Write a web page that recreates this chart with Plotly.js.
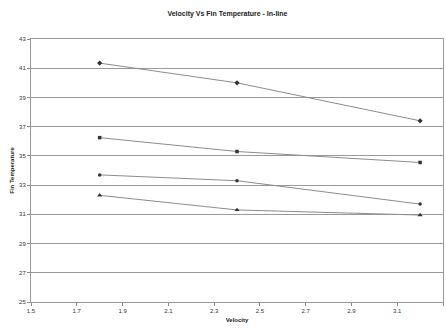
<!DOCTYPE html>
<html><head><meta charset="utf-8">
<script src="https://cdn.plot.ly/plotly-3.0.1.min.js"></script>
<style>html,body{margin:0;padding:0;background:#fff}#c{width:446px;height:331px}</style>
</head><body><div id="c"></div>
<script>
const velocity = [1.8, 2.4, 3.2];
const seriesA = [41.35, 40.0, 37.4];
const seriesB = [36.25, 35.3, 34.55];
const seriesC = [33.7, 33.3, 31.7];
const seriesD = [32.3, 31.3, 30.95];
const xTicks = [1.5, 1.7, 1.9, 2.1, 2.3, 2.5, 2.7, 2.9, 3.1, 3.3];
const yTicks = [25, 27, 29, 31, 33, 35, 37, 39, 41, 43];

function tr(y, sym, sz) {
  return {x: velocity, y: y, type: 'scatter', mode: 'lines+markers',
    line: {color: '#8c8c8c', width: 1},
    marker: {symbol: sym, size: sz, color: '#333'}};
}
const data = [tr(seriesA, 'diamond', 4), tr(seriesB, 'square', 3.5), tr(seriesC, 'circle', 3.5), tr(seriesD, 'triangle-up', 4.5)];
const f = {family: 'Liberation Sans, Arial, sans-serif', size: 6, color: '#333'};
const layout = {
  width: 446, height: 331, showlegend: false,
  margin: {l: 31, r: 3, t: 39, b: 29},
  paper_bgcolor: '#fff', plot_bgcolor: '#fff',
  title: {text: '<b>Velocity Vs Fin Temperature - In-line</b>', x: 0.51, xanchor: 'center', y: 0.96, yanchor: 'middle', font: {family: f.family, size: 7, color: '#222'}},
  xaxis: {range: [1.5, 3.3], tickvals: xTicks, ticktext: xTicks.map(v => v.toFixed(1)), showgrid: false, zeroline: false,
    showline: true, linecolor: '#999', linewidth: 1, mirror: true, ticks: 'outside', ticklen: 3, tickcolor: '#888', tickfont: f,
    title: {text: '<b>Velocity</b>', font: {family: f.family, size: 6, color: '#222'}, standoff: 4}},
  yaxis: {range: [25, 43], tickvals: yTicks, showgrid: true, gridcolor: '#999', gridwidth: 1, zeroline: false,
    showline: true, linecolor: '#999', linewidth: 1, mirror: true, ticks: 'outside', ticklen: 3, tickcolor: '#888', tickfont: f,
    title: {text: '<b>Fin Temperature</b>', font: {family: f.family, size: 6, color: '#222'}, standoff: 4}}
};
Plotly.newPlot('c', data, layout, {displayModeBar: false, staticPlot: true});
</script></body></html>
